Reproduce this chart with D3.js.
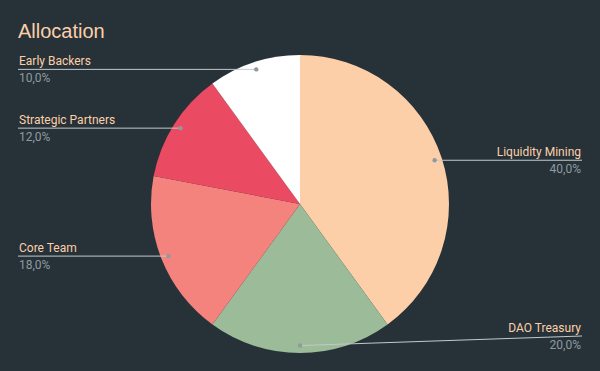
<!DOCTYPE html>
<html>
<head>
<meta charset="utf-8">
<script src="https://cdn.jsdelivr.net/npm/d3@7"></script>
<style>
  html, body { margin: 0; padding: 0; background: #263238; }
  svg { display: block; font-family: Roboto, "Noto Sans", sans-serif; }
</style>
</head>
<body>
<div id="chart"></div>
<script>
// slice data, clockwise from 12 o'clock
const categories = ["Liquidity Mining", "DAO Treasury", "Core Team", "Strategic Partners", "Early Backers"];
const shares = [40, 20, 18, 12, 10];
const colors = ["#fdcfa9", "#9cbb98", "#f4837d", "#eb4a63", "#ffffff"];

const width = 600, height = 371;
const cx = 300, cy = 204, radius = 149;

const svg = d3.select("#chart").append("svg")
    .attr("width", width)
    .attr("height", height);

svg.append("rect")
    .attr("width", width)
    .attr("height", height)
    .attr("fill", "#263238");

svg.append("text")
    .attr("x", 18)
    .attr("y", 38)
    .attr("fill", "#fdcfa9")
    .style("font-family", "'Liberation Sans', Arial, sans-serif")
    .style("font-size", "20px")
    .text("Allocation");

const data = categories.map((c, i) => ({name: c, value: shares[i], color: colors[i]}));

const pie = d3.pie()
    .value(d => d.value)
    .sort(null);

const arc = d3.arc()
    .innerRadius(0)
    .outerRadius(radius);

// where the leader lines start, a little inside the rim
const dotArc = d3.arc()
    .innerRadius(radius * 0.95)
    .outerRadius(radius * 0.95);

const arcs = pie(data);

const g = svg.append("g")
    .attr("transform", "translate(" + cx + "," + cy + ")");

g.selectAll("path.slice")
    .data(arcs).enter()
    .append("path")
    .attr("class", "slice")
    .attr("d", arc)
    .attr("fill", d => d.data.color);

const fmt = v => d3.format(".1f")(v).replace(".", ",") + "%";
const total = d3.sum(shares);

const labels = svg.append("g");

arcs.forEach(d => {
    const [px, py] = dotArc.centroid(d);
    const dx = cx + px, dy = cy + py;
    const mid = (d.startAngle + d.endAngle) / 2;
    const right = mid <= Math.PI + 0.01;
    // keep the labels off the bottom edge
    const ly = Math.min(dy, height - 35);
    const endX = right ? 582 : 18;

    labels.append("line")
        .attr("x1", dx).attr("y1", dy)
        .attr("x2", endX).attr("y2", ly)
        .attr("stroke", "#c3c9cc")
        .attr("stroke-width", 1);

    labels.append("circle")
        .attr("cx", dx).attr("cy", dy)
        .attr("r", 2.2)
        .attr("fill", "#8f9aa0");

    const tx = right ? 581 : 19;
    const anchor = right ? "end" : "start";

    labels.append("text")
        .attr("x", tx).attr("y", ly - 4)
        .attr("text-anchor", anchor)
        .attr("fill", "#fdcfa9")
        .style("font-size", "12px")
        .text(d.data.name);

    labels.append("text")
        .attr("x", tx).attr("y", ly + 13)
        .attr("text-anchor", anchor)
        .attr("fill", "#8f9aa0")
        .style("font-size", "12px")
        .text(fmt(d.data.value / total * 100));
});
</script>
</body>
</html>
